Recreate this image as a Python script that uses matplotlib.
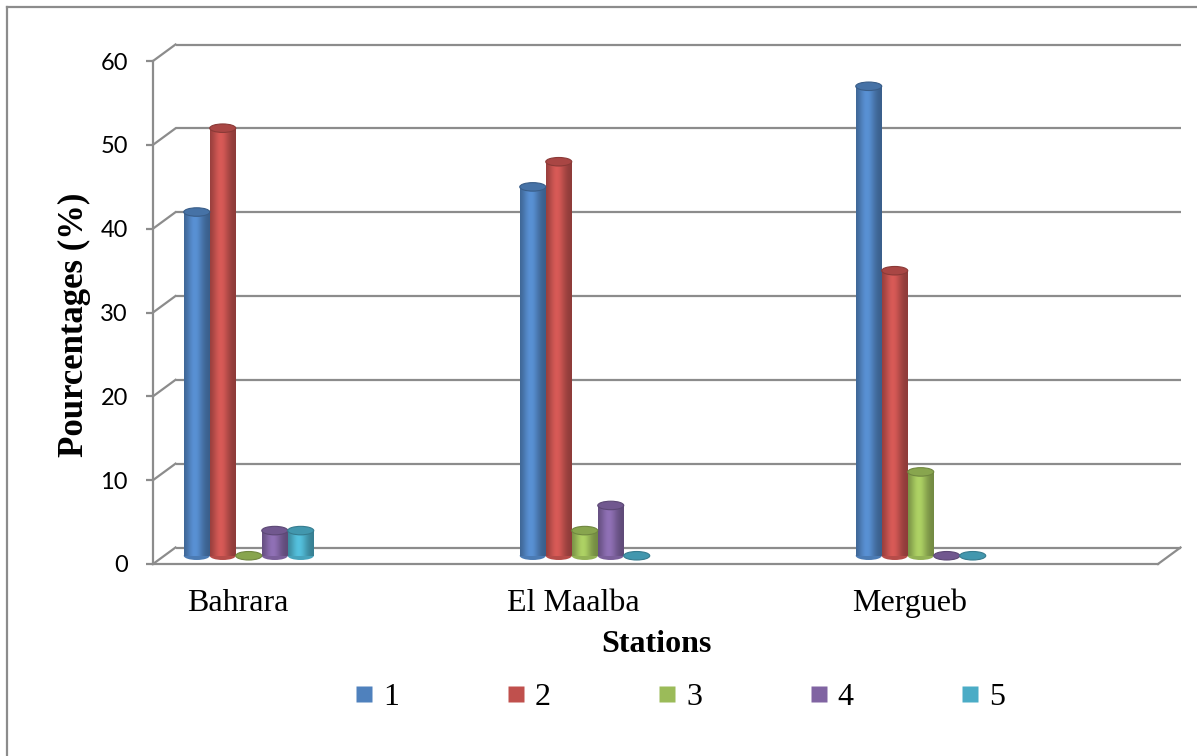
import numpy as np
import matplotlib
matplotlib.use("Agg")
import matplotlib.pyplot as plt
from matplotlib.patches import Ellipse
from matplotlib.lines import Line2D
from matplotlib.transforms import ScaledTranslation

# data
stations = ["Bahrara", "El Maalba", "Mergueb"]
series_names = ["1", "2", "3", "4", "5"]
s1 = [41, 44, 56]
s2 = [51, 47, 34]
s3 = [0, 3, 10]
s4 = [3, 6, 0]
s5 = [3, 0, 0]
y_ticks = [0, 10, 20, 30, 40, 50, 60]
colors = ["#4F81BD", "#C0504D", "#9BBB59", "#8064A2", "#4BACC6"]

W, H, DPI = 1197, 756, 100
GRID = "#8c8c8c"
SERIF = "Liberation Serif"

fig = plt.figure(figsize=(W / DPI, H / DPI), dpi=DPI)
ax = fig.add_axes([153 / W, (H - 564) / H, 1005 / W, (564 - 61) / H])
x_lo, x_hi = -0.2515, 2.7396
ax.set_xlim(x_lo, x_hi)
ax.set_ylim(0, 60)

# depth of the 3d box in pixels (back wall offset, y pointing up)
back_dx, back_dy = 22.5, 16.5
px_x = (x_hi - x_lo) / 1005.0
px_y = 60.0 / (564 - 61)
bdx, bdy = back_dx * px_x, back_dy * px_y

# back wall gridlines and the little diagonals from the front axis
for v in y_ticks:
    ax.plot([x_lo + bdx, x_hi + bdx], [v + bdy, v + bdy], color=GRID, lw=1.6,
            clip_on=False, zorder=1, solid_capstyle="butt")
    ax.plot([x_lo, x_lo + bdx], [v, v + bdy], color=GRID, lw=1.6,
            clip_on=False, zorder=1)
# floor right edge
ax.plot([x_hi, x_hi + bdx], [0, bdy], color=GRID, lw=1.6, clip_on=False, zorder=1)

# bars stand in the middle of the floor depth
mid = ax.transData + ScaledTranslation(back_dx / 2 / DPI, back_dy / 2 / DPI,
                                       fig.dpi_scale_trans)


def shade(c, f):
    rgb = np.array(matplotlib.colors.to_rgb(c))
    return tuple(np.clip(rgb * f, 0, 1))


bw = 26 * px_x
ell_h = 8.5 * px_y
n_strip = 26
t = (np.arange(n_strip) + 0.5) / n_strip
profile = 0.72 + 0.40 * np.exp(-((t - 0.42) / 0.32) ** 2)

all_series = [s1, s2, s3, s4, s5]
for si, vals in enumerate(all_series):
    base = colors[si]
    for gi, v in enumerate(vals):
        xc = gi + (si - 2) * bw
        if v > 0:
            ax.add_patch(Ellipse((xc, 0), bw, ell_h, transform=mid,
                                 facecolor=shade(base, 0.95), edgecolor="none",
                                 zorder=3, clip_on=False))
            for k in range(n_strip):
                ax.bar(xc - bw / 2 + (k + 0.5) * bw / n_strip, v,
                       width=bw / n_strip * 1.1, bottom=0,
                       color=shade(base, profile[k]), linewidth=0,
                       transform=mid, zorder=3, clip_on=False)
        ax.add_patch(Ellipse((xc, v), bw, ell_h, transform=mid,
                             facecolor=shade(base, 0.88),
                             edgecolor=shade(base, 0.72), linewidth=0.8,
                             zorder=4, clip_on=False))

# axes styling: front axis + front floor edge
for s in ["top", "right"]:
    ax.spines[s].set_visible(False)
for s in ["left", "bottom"]:
    ax.spines[s].set_color(GRID)
    ax.spines[s].set_linewidth(1.6)
    ax.spines[s].set_zorder(2)
ax.set_yticks(y_ticks)
ax.set_yticklabels([str(v) for v in y_ticks], fontfamily="Lato", fontsize=17)
ax.tick_params(axis="y", length=5, width=1.6, color=GRID, pad=13)
ax.set_xticks(range(len(stations)))
ax.set_xticklabels(stations, fontfamily=SERIF, fontsize=23)
ax.tick_params(axis="x", length=0, pad=18)
ax.set_facecolor("none")

fig.text(74 / W, 1 - 325 / H, "Pourcentages (%)", fontfamily=SERIF,
         fontsize=25, fontweight="bold", rotation=90, ha="center", va="center")
fig.text(656 / W, 1 - 645 / H, "Stations", fontfamily=SERIF, fontsize=23,
         fontweight="bold", ha="center", va="center")

handles = [Line2D([], [], marker="s", linestyle="none", markersize=11,
                  markerfacecolor=c, markeredgecolor="none") for c in colors]
fig.legend(handles, series_names, ncol=5, loc="center",
           bbox_to_anchor=(680 / W, 1 - 697 / H), frameon=False,
           prop={"family": SERIF, "size": 23}, handlelength=0.6,
           handletextpad=0.3, columnspacing=3.34, borderaxespad=0)

# chart border (only left and top visible in the source)
fig.add_artist(Line2D([7 / W, 7 / W], [0, 1 - 7 / H], color=GRID, lw=1.6,
                      transform=fig.transFigure))
fig.add_artist(Line2D([7 / W, 1], [1 - 7 / H, 1 - 7 / H], color=GRID, lw=1.6,
                      transform=fig.transFigure))

fig.savefig("out.png", dpi=DPI)
